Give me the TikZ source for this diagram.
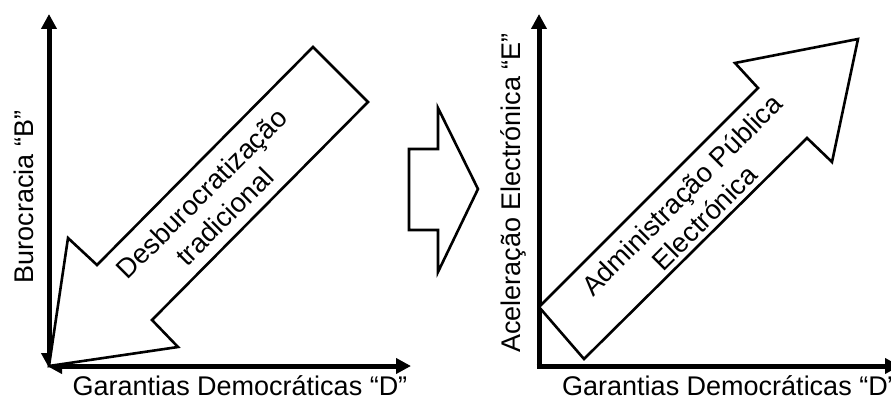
\documentclass[tikz,border=0pt]{standalone}
\usepackage{fontspec}
\setmainfont{Liberation Sans}
\usetikzlibrary{arrows.meta}
\begin{document}
\begin{tikzpicture}[x=1pt,y=-1pt,
  axis/.style={line width=5pt,-{Triangle[length=15pt,width=15pt]}},
  axisboth/.style={line width=5pt,{Triangle[length=15pt,width=15pt]}-{Triangle[length=15pt,width=15pt]}},
  blockarrow/.style={draw=black,fill=white,line width=2.6pt,line join=miter},
  lbl/.style={font=\fontsize{27}{32}\selectfont,inner sep=0pt},
  inlbl/.style={font=\fontsize{27.3}{32.5}\selectfont,align=center,rotate=45,inner sep=0pt}]
\useasboundingbox (0,0) rectangle (891,398);
% left axes
\coordinate (LO) at (49,366);
\coordinate (LT) at (49,14);
\coordinate (LR) at (411,366);
\coordinate (LOv) at (49,368);
\coordinate (LOh) at (47,366);
\draw[axisboth] (LOv) -- (LT);
\draw[axisboth] (LOh) -- (LR);
% left block arrow
\draw[blockarrow] (313,47) -- (368,102) -- (152,320) -- (178,347) -- (49,366) -- (68,238) -- (97,265) -- cycle;
\node[inlbl] (ltxt) at (213,205) {Desburocratização\\tradicional};
\node[lbl,rotate=90,anchor=base] (lbly) at (33,197) {Burocracia “B”};
\node[lbl,anchor=base] (lblx) at (240,395) {Garantias Democráticas “D”};
% middle arrow
\draw[blockarrow] (438,108) -- (478,189) -- (438,272) -- (438,230) -- (409,230) -- (409,149) -- (438,149) -- cycle;
% right axes
\coordinate (RO) at (539,366);
\coordinate (ROv) at (539,368.5);
\coordinate (ROh) at (536.5,366);
\coordinate (RT) at (539,14);
\coordinate (RR) at (900,366);
\draw[axis] (ROv) -- (RT);
\draw[axis] (ROh) -- (RR);
% right block arrow
\draw[blockarrow] (539,307) -- (758,88) -- (735,63) -- (858,39) -- (832,162) -- (807,138) -- (584,359) -- cycle;
\node[inlbl] (rtxt) at (693,206) {Administração Pública\\Electrónica};
\node[lbl,rotate=90,anchor=base] (rly) at (520,193) {Aceleração Electrónica “E”};
\node[lbl,anchor=base west] (rlx) at (562,395) {Garantias Democráticas “D”};
\end{tikzpicture}
\end{document}
